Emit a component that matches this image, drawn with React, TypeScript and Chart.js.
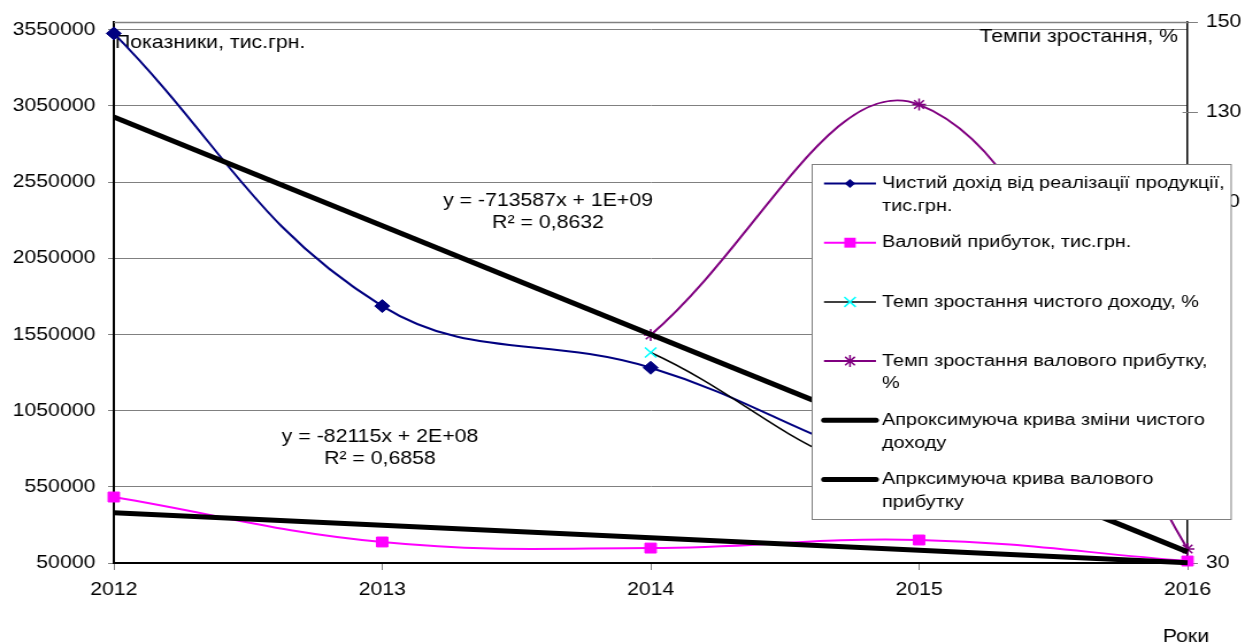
import { useEffect, useRef } from 'react';
import { Chart, registerables } from 'chart.js';

Chart.register(...registerables);

// ---- data ----
const years = ['2012', '2013', '2014', '2015', '2016'];
const netRevenue = [3526000, 1736000, 1331500, 660000, 496000];
const grossProfit = [483000, 188000, 148000, 201000, 63000];
const netRevenueGrowth = [null, null, 76.7, 49.6, 75.1];
const grossProfitGrowth = [null, null, 80.6, 131.7, 33.1];
const netRevenueTrend = [2977000, null, null, null, 123000];
const grossProfitTrend = [380000, null, null, null, 52000];
const leftTicks = [50000, 550000, 1050000, 1550000, 2050000, 2550000, 3050000, 3550000];
const leftMin = 50000;
const leftMax = 3600000;
const rightTicks = [30, 50, 70, 90, 110, 130, 150];
const rightMin = 30;
const rightMax = 150;
const leftTitle = 'Показники, тис.грн.';
const rightTitle = 'Темпи зростання, %';
const xTitle = 'Роки';
const netTrendText = ['y = -713587x + 1E+09', 'R² = 0,8632'];
const grossTrendText = ['y = -82115x + 2E+08', 'R² = 0,6858'];
const legendText = [
  ['Чистий дохід від реалізації продукції,', 'тис.грн.'],
  ['Валовий прибуток, тис.грн.'],
  ['Темп зростання чистого доходу, %'],
  ['Темп зростання валового прибутку,', '%'],
  ['Апроксимуюча крива зміни чистого', 'доходу'],
  ['Апрксимуюча крива валового', 'прибутку'],
];

// ---- layout / style ----
const W = 1083;
const H = 644;
const SX = 1245 / W;
const FONT = '"Liberation Sans", Arial, sans-serif';
const FS = 18.5;
const LEGEND_FS = 17.3;
const NAVY = '#000080';
const MAGENTA = '#FF00FF';
const CYAN = '#00FFFF';
const PURPLE = '#800080';
const GRID = '#808080';

const legendStyles = [
  { color: NAVY, width: 2, marker: 'rectRot', mColor: NAVY, r: 6.5 },
  { color: MAGENTA, width: 2, marker: 'rect', mColor: MAGENTA, r: 7 },
  { color: '#000000', width: 1.5, marker: 'crossRot', mColor: CYAN, r: 7 },
  { color: PURPLE, width: 2, marker: 'star', mColor: PURPLE, r: 6 },
  { color: '#000000', width: 5, marker: null, mColor: '', r: 0 },
  { color: '#000000', width: 5, marker: null, mColor: '', r: 0 },
];

function drawMarker(ctx: CanvasRenderingContext2D, style: string | null, x: number, y: number, r: number, color: string) {
  if (!style) return;
  ctx.save();
  ctx.fillStyle = color;
  ctx.strokeStyle = color;
  ctx.lineWidth = 1.5;
  const s = Math.SQRT1_2 * r;
  ctx.beginPath();
  if (style === 'rectRot') {
    ctx.moveTo(x - s, y);
    ctx.lineTo(x, y + s);
    ctx.lineTo(x + s, y);
    ctx.lineTo(x, y - s);
    ctx.closePath();
    ctx.fill();
  } else if (style === 'rect') {
    ctx.rect(x - s, y - s, 2 * s, 2 * s);
    ctx.fill();
  } else if (style === 'crossRot') {
    ctx.moveTo(x - s, y - s);
    ctx.lineTo(x + s, y + s);
    ctx.moveTo(x - s, y + s);
    ctx.lineTo(x + s, y - s);
    ctx.stroke();
  } else if (style === 'star') {
    ctx.moveTo(x - s, y - s);
    ctx.lineTo(x + s, y + s);
    ctx.moveTo(x - s, y + s);
    ctx.lineTo(x + s, y - s);
    ctx.moveTo(x, y - r);
    ctx.lineTo(x, y + r);
    ctx.moveTo(x - r, y);
    ctx.lineTo(x + r, y);
    ctx.stroke();
  }
  ctx.restore();
}

const decorPlugin = {
  id: 'decor',
  beforeDatasetsDraw(chart: any) {
    const { ctx, chartArea: a, scales } = chart;
    ctx.save();
    // top border of plot area
    ctx.strokeStyle = GRID;
    ctx.lineWidth = 1.5;
    ctx.beginPath();
    ctx.moveTo(a.left, a.top + 0.5);
    ctx.lineTo(a.right, a.top + 0.5);
    ctx.stroke();
    // inner part of right-axis tick marks
    ctx.lineWidth = 1;
    rightTicks.forEach((v) => {
      const py = Math.round(scales.y1.getPixelForValue(v)) + 0.5;
      ctx.beginPath();
      ctx.moveTo(a.right - 5 / SX, py);
      ctx.lineTo(a.right, py);
      ctx.stroke();
    });
    // titles and equation labels
    ctx.fillStyle = '#000';
    ctx.font = `${FS}px ${FONT}`;
    ctx.textBaseline = 'middle';
    ctx.textAlign = 'left';
    ctx.fillText(leftTitle, 115 / SX, 43);
    ctx.textAlign = 'right';
    ctx.fillText(rightTitle, 1178 / SX, 37);
    ctx.textAlign = 'center';
    ctx.fillText(xTitle, 1186 / SX, 637);
    netTrendText.forEach((t, i) => ctx.fillText(t, 548 / SX, 201 + i * 22));
    grossTrendText.forEach((t, i) => ctx.fillText(t, 380 / SX, 437 + i * 22));
    ctx.restore();
  },
  afterDraw(chart: any) {
    const { ctx } = chart;
    ctx.save();
    const lx = Math.round(812 / SX) + 0.5;
    const ly = 164.5;
    const lw = (1231 - 812) / SX;
    const lh = 355;
    ctx.fillStyle = '#ffffff';
    ctx.fillRect(lx, ly, lw, lh);
    ctx.strokeStyle = GRID;
    ctx.lineWidth = 1;
    ctx.strokeRect(lx, ly, lw, lh);
    ctx.font = `${LEGEND_FS}px ${FONT}`;
    ctx.textBaseline = 'middle';
    ctx.textAlign = 'left';
    legendText.forEach((lines, i) => {
      const st = legendStyles[i];
      const y = 183.5 + i * 59.2;
      ctx.strokeStyle = st.color;
      ctx.lineWidth = st.width;
      ctx.lineCap = st.width > 3 ? 'round' : 'butt';
      ctx.beginPath();
      ctx.moveTo(824 / SX, y);
      ctx.lineTo(876 / SX, y);
      ctx.stroke();
      drawMarker(ctx, st.marker, 850 / SX, y, st.r, st.mColor);
      ctx.fillStyle = '#000';
      lines.forEach((t, j) => ctx.fillText(t, 882 / SX, y + j * 22.5));
    });
    ctx.restore();
  },
};

export default function App() {
  const ref = useRef<HTMLCanvasElement | null>(null);

  useEffect(() => {
    document.body.style.margin = '0';
    const canvas = ref.current;
    if (!canvas) return;
    const font = { family: FONT, size: FS };
    const chart = new Chart(canvas, {
      type: 'line',
      data: {
        labels: years,
        datasets: [
          {
            label: legendText[4].join(' '),
            data: netRevenueTrend,
            yAxisID: 'y',
            borderColor: '#000',
            borderWidth: 5,
            pointRadius: 0,
            spanGaps: true,
            tension: 0,
            order: 1,
            clip: false,
          },
          {
            label: legendText[5].join(' '),
            data: grossProfitTrend,
            yAxisID: 'y',
            borderColor: '#000',
            borderWidth: 5,
            pointRadius: 0,
            spanGaps: true,
            tension: 0,
            order: 0,
            clip: false,
          },
          {
            label: legendText[0].join(' '),
            data: netRevenue,
            yAxisID: 'y',
            borderColor: NAVY,
            borderWidth: 2,
            pointStyle: 'rectRot',
            pointRadius: 6.5,
            pointBackgroundColor: NAVY,
            pointBorderColor: NAVY,
            pointBorderWidth: 1,
            tension: 0.4,
            order: 5,
            clip: false,
          },
          {
            label: legendText[1].join(' '),
            data: grossProfit,
            yAxisID: 'y',
            borderColor: MAGENTA,
            borderWidth: 2,
            pointStyle: 'rect',
            pointRadius: 7,
            pointBackgroundColor: MAGENTA,
            pointBorderColor: MAGENTA,
            pointBorderWidth: 1,
            tension: 0.4,
            order: 4,
            clip: false,
          },
          {
            label: legendText[2].join(' '),
            data: netRevenueGrowth,
            yAxisID: 'y1',
            borderColor: '#000',
            borderWidth: 1.5,
            pointStyle: 'crossRot',
            pointRadius: 7,
            pointBorderColor: CYAN,
            pointBackgroundColor: CYAN,
            pointBorderWidth: 1.5,
            tension: 0.4,
            order: 3,
            clip: false,
          },
          {
            label: legendText[3].join(' '),
            data: grossProfitGrowth,
            yAxisID: 'y1',
            borderColor: PURPLE,
            borderWidth: 2,
            pointStyle: 'star',
            pointRadius: 6,
            pointBorderColor: PURPLE,
            pointBackgroundColor: PURPLE,
            pointBorderWidth: 1.5,
            tension: 0.4,
            order: 2,
            clip: false,
          },
        ],
      },
      options: {
        animation: false,
        responsive: false,
        devicePixelRatio: 1,
        layout: { padding: { top: 22, left: 0, right: 0, bottom: 0 } },
        plugins: {
          legend: { display: false },
          tooltip: { enabled: false },
          title: { display: false },
        },
        scales: {
          x: {
            type: 'category',
            offset: false,
            grid: { drawOnChartArea: false, color: GRID, tickLength: 7, lineWidth: 1 },
            border: { color: '#000', width: 2 },
            ticks: { font, color: '#000', padding: 9, maxRotation: 0, autoSkip: false },
            afterFit: (s: any) => {
              s.height = 81;
            },
          },
          y: {
            type: 'linear',
            position: 'left',
            min: leftMin,
            max: leftMax,
            afterBuildTicks: (s: any) => {
              s.ticks = leftTicks.map((v) => ({ value: v }));
            },
            grid: { color: GRID, tickLength: 5, lineWidth: 1 },
            border: { color: '#000', width: 2 },
            ticks: { font, color: '#000', padding: 11, callback: (v: any) => String(v) },
            afterFit: (s: any) => {
              s.width = 99;
            },
          },
          y1: {
            type: 'linear',
            position: 'right',
            min: rightMin,
            max: rightMax,
            afterBuildTicks: (s: any) => {
              s.ticks = rightTicks.map((v) => ({ value: v }));
            },
            grid: { drawOnChartArea: false, color: GRID, tickLength: 9, lineWidth: 1 },
            border: { color: '#000', width: 1.5 },
            ticks: { font, color: '#000', padding: 7, callback: (v: any) => String(v) },
            afterFit: (s: any) => {
              s.width = 50;
            },
          },
        },
      },
      plugins: [decorPlugin],
    } as any);
    return () => chart.destroy();
  }, []);

  return (
    <div style={{ width: '1245px', height: '644px', background: '#fff' }}>
      <canvas
        ref={ref}
        width={W}
        height={H}
        style={{ display: 'block', width: '1245px', height: '644px' }}
      />
    </div>
  );
}
